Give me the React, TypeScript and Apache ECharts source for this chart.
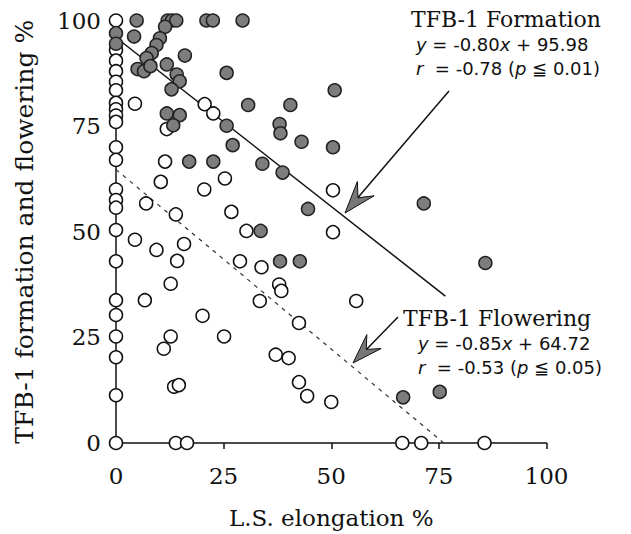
import React, { useEffect, useRef } from "react";
import * as echarts from "echarts";

// TFB-1 formation (filled circles)
const formationX = [4.8, 12, 13, 14, 21, 22.5, 29.4, 0, 0, 4.2, 11.4, 10.2, 9.4, 8.3, 7.1, 5, 6.5, 8, 16, 11.8, 14.1, 14.8, 12.9, 25.7, 30.7, 40.5, 50.8, 11.8, 14.8, 13.3, 25.7, 38, 38.2, 27.1, 43.1, 50.4, 17, 22.6, 34, 38.7, 71.5, 44.6, 33.6, 38.1, 42.7, 85.8, 66.7, 75.2];
const formationY = [100, 100, 100, 100, 100, 100, 100, 97, 94.5, 96.2, 98.5, 95.8, 94.2, 92.3, 91.1, 88.5, 88, 89.2, 91.7, 89.6, 87.2, 85.6, 83.7, 87.6, 80, 80, 83.5, 78, 77.6, 75.2, 75.1, 75.5, 73.3, 70.5, 71.3, 70, 66.6, 66.6, 66.1, 64, 56.7, 55.4, 50.2, 43, 43, 42.6, 10.8, 12.1];

// TFB-1 flowering (open circles)
const floweringX = [0, 0, 0, 0, 0, 0, 0, 0, 0, 0, 0, 0, 0, 0, 0, 0, 0, 0, 0, 0, 0, 0, 0, 4.4, 20.6, 22.6, 11.8, 11.4, 10.4, 20.5, 25.3, 7, 13.9, 26.8, 30.3, 50.4, 50.4, 4.4, 9.4, 15.8, 14.2, 28.8, 33.8, 37.9, 38.4, 12.7, 6.7, 33.4, 55.8, 20.1, 12.7, 11.1, 25.1, 37.1, 40.1, 42.5, 42.5, 13.5, 14.6, 44.4, 50, 13.9, 16.5, 66.5, 70.9, 85.6];
const floweringY = [100, 93, 90.5, 88, 85.5, 83.5, 80.5, 79, 77.5, 76, 70, 67, 60, 57.5, 55.7, 50.4, 43, 33.8, 30.3, 25.2, 20.3, 11.3, 0, 80.3, 80.2, 78, 74.3, 66.6, 61.8, 60, 62.6, 56.7, 54.1, 54.7, 50.2, 59.8, 49.9, 48.1, 45.7, 47.1, 43.1, 43, 41.6, 37.5, 36, 37.7, 33.8, 33.6, 33.6, 30.1, 25.2, 22.3, 25.2, 20.9, 20.1, 28.4, 14.4, 13.3, 13.7, 11.1, 9.7, 0, 0, 0, 0, 0];

// Regression fits: [slope, intercept, xEnd]
const formationFit = [-0.8, 95.98, 76.5];
const floweringFit = [-0.85, 64.72, 76.1];

const xTicks = [0, 25, 50, 75, 100];
const yTicks = [0, 25, 50, 75, 100];

const zip = (xs: number[], ys: number[]) => xs.map((x, i) => [x, ys[i]]);
const fitLine = (f: number[]) => [
  [0, f[1]],
  [f[2], f[0] * f[2] + f[1]],
];

const SERIF = "'DejaVu Serif', 'Liberation Serif', serif";
const SANS = "'DejaVu Sans', 'Noto Sans CJK JP', sans-serif";

function arrowHead(tip: number[], tail: number[], len: number, half: number, notch: number) {
  const dx = tail[0] - tip[0];
  const dy = tail[1] - tip[1];
  const L = Math.hypot(dx, dy);
  const d = [dx / L, dy / L];
  const p = [-d[1], d[0]];
  const back = [tip[0] + d[0] * len, tip[1] + d[1] * len];
  const n = [tip[0] + d[0] * notch, tip[1] + d[1] * notch];
  return [
    tip,
    [back[0] + p[0] * half, back[1] + p[1] * half],
    n,
    [back[0] - p[0] * half, back[1] - p[1] * half],
  ];
}

function eqText(x: number, y: number, text: string) {
  return {
    type: "text",
    x,
    y,
    silent: true,
    style: {
      text,
      fill: "#111",
      font: `18px ${SANS}`,
      verticalAlign: "middle",
      rich: {
        i: { fontStyle: "italic", fontSize: 18, fontFamily: SANS, fill: "#111" },
      },
    },
  };
}

function titleText(x: number, y: number, text: string) {
  return {
    type: "text",
    x,
    y,
    silent: true,
    style: { text, fill: "#111", font: `22px ${SERIF}`, verticalAlign: "middle" },
  };
}

export default function App() {
  const ref = useRef<HTMLDivElement>(null);
  useEffect(() => {
    if (!ref.current) return;
    const chart = echarts.init(ref.current, null, { renderer: "svg" });
    const axisLabel = { fontFamily: SERIF, fontSize: 23, color: "#111" };
    const fArrowTip = [345, 213];
    const fArrowTail = [449, 91];
    const wArrowTip = [353, 363];
    const wArrowTail = [398, 317];
    chart.setOption({
      animation: false,
      backgroundColor: "#fff",
      grid: { left: 116, right: 84.5, top: 20.5, bottom: 87.5, containLabel: false },
      xAxis: {
        type: "value",
        min: xTicks[0],
        max: xTicks[xTicks.length - 1],
        interval: 25,
        name: "L.S. elongation %",
        nameLocation: "middle",
        nameGap: 63,
        nameTextStyle: { fontFamily: SERIF, fontSize: 23, color: "#111" },
        axisLine: { onZero: false, lineStyle: { color: "#111", width: 1.5 } },
        axisTick: { show: true, inside: false, length: 6, lineStyle: { color: "#111", width: 1.5 } },
        axisLabel: { ...axisLabel, margin: 21 },
        splitLine: { show: false },
      },
      yAxis: {
        type: "value",
        min: yTicks[0],
        max: yTicks[yTicks.length - 1],
        interval: 25,
        name: "TFB-1 formation and flowering %",
        nameLocation: "middle",
        nameGap: 79,
        nameTextStyle: { fontFamily: SERIF, fontSize: 25, color: "#111" },
        axisLine: { show: true, onZero: false, lineStyle: { color: "#111", width: 1.5 } },
        axisTick: { show: true, inside: false, length: 6, lineStyle: { color: "#111", width: 1.5 } },
        axisLabel: { ...axisLabel, margin: 15 },
        splitLine: { show: false },
      },
      series: [
        {
          type: "line",
          data: fitLine(formationFit),
          symbol: "none",
          lineStyle: { color: "#111", width: 1.5 },
          z: 1,
          silent: true,
        },
        {
          type: "line",
          data: fitLine(floweringFit),
          symbol: "none",
          lineStyle: { color: "#333", width: 1.2, type: [4, 5] },
          z: 1,
          silent: true,
        },
        {
          name: "TFB-1 Flowering",
          type: "scatter",
          data: zip(floweringX, floweringY),
          symbol: "circle",
          symbolSize: 13,
          itemStyle: { color: "#fff", borderColor: "#111", borderWidth: 1.5, opacity: 1 },
          z: 3,
        },
        {
          name: "TFB-1 Formation",
          type: "scatter",
          data: zip(formationX, formationY),
          symbol: "circle",
          symbolSize: 13,
          itemStyle: { color: "#7d7d7d", borderColor: "#222", borderWidth: 1.5, opacity: 1 },
          z: 4,
        },
      ],
      graphic: [
        titleText(411, 19, "TFB-1 Formation"),
        eqText(416, 44, "{i|y} = -0.80{i|x} + 95.98"),
        eqText(416, 68, "{i|r}  = -0.78 ({i|p} ≦ 0.01)"),
        titleText(403, 318, "TFB-1 Flowering"),
        eqText(418, 343, "{i|y} = -0.85{i|x} + 64.72"),
        eqText(418, 367, "{i|r}  = -0.53 ({i|p} ≦ 0.05)"),
        {
          type: "line",
          silent: true,
          shape: { x1: fArrowTail[0], y1: fArrowTail[1], x2: fArrowTip[0] + 10, y2: fArrowTip[1] - 12 },
          style: { stroke: "#111", lineWidth: 1.5 },
        },
        {
          type: "polygon",
          silent: true,
          shape: { points: arrowHead(fArrowTip, fArrowTail, 32, 11, 20) },
          style: { fill: "#777", stroke: "#111", lineWidth: 1 },
        },
        {
          type: "line",
          silent: true,
          shape: { x1: wArrowTail[0], y1: wArrowTail[1], x2: wArrowTip[0] + 10, y2: wArrowTip[1] - 10 },
          style: { stroke: "#111", lineWidth: 1.5 },
        },
        {
          type: "polygon",
          silent: true,
          shape: { points: arrowHead(wArrowTip, wArrowTail, 30, 10, 19) },
          style: { fill: "#777", stroke: "#111", lineWidth: 1 },
        },
      ],
    });
    return () => chart.dispose();
  }, []);
  return (
    <div
      ref={ref}
      style={{ position: "absolute", left: 0, top: 0, width: 631, height: 534, background: "#fff" }}
    />
  );
}
